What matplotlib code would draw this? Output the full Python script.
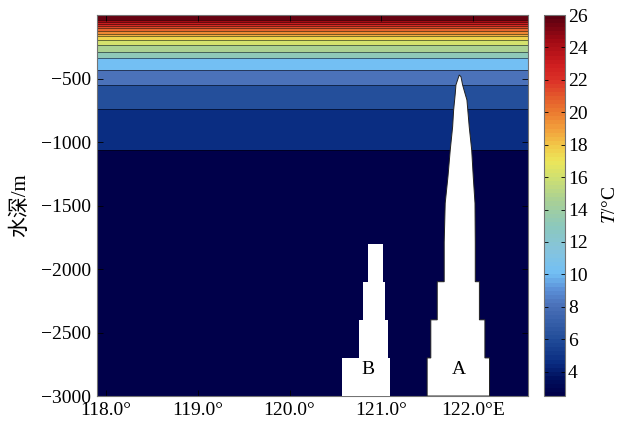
import matplotlib
matplotlib.use("Agg")
import matplotlib.pyplot as plt
import numpy as np
from matplotlib.colors import LinearSegmentedColormap, Normalize
from matplotlib.patches import Polygon

plt.rcParams["font.family"] = ["Liberation Serif", "Noto Sans CJK SC"]
plt.rcParams["mathtext.fontset"] = "stix"
plt.rcParams["axes.unicode_minus"] = True

# ── Data ──────────────────────────────────────────────────────────────────────
# temperature layers: boundaries (m, negative down) and layer temperature (°C)
layer_edges = [0, -39, -58, -73, -89, -105, -126, -147, -168, -199, -236,
               -289, -341, -433, -551, -740, -1063, -3000]
layer_temp = [25.6, 24.4, 23.2, 22.3, 21.4, 20.5, 19.6, 18.6, 17.5, 16.2,
              14.6, 13.0, 10.2, 8.0, 6.2, 4.5, 2.7]

# seamount A outline (lon, depth)
sm_a_lon = [121.50, 121.50, 121.54, 121.54, 121.61, 121.61, 121.686, 121.686,
            121.697, 121.727, 121.752, 121.778, 121.789, 121.807, 121.814,
            121.85, 121.869, 121.887, 121.913, 121.934, 121.959, 121.986,
            122.003, 122.022, 122.025, 122.025, 122.07, 122.07, 122.13,
            122.13, 122.18, 122.18]
sm_a_dep = [-3000, -2700, -2700, -2400, -2400, -2100, -2100, -1790,
            -1482, -1273, -1063, -880, -748, -617, -551,
            -472, -486, -551, -617, -669, -880, -1063,
            -1273, -1482, -1790, -2100, -2100, -2400, -2400,
            -2700, -2700, -3000]

# seamount B outline (lon, depth)
sm_b_lon = [120.57, 120.57, 120.76, 120.76, 120.80, 120.80, 120.856, 120.856,
            121.02, 121.02, 121.04, 121.04, 121.07, 121.07, 121.10, 121.10]
sm_b_dep = [-3000, -2700, -2700, -2400, -2400, -2100, -2100, -1800,
            -1800, -2100, -2100, -2400, -2400, -2700, -2700, -3000]

lon_ticks = [118.0, 119.0, 120.0, 121.0, 122.0]
lon_labels = ["118.0°", "119.0°", "120.0°", "121.0°", "122.0°E"]
dep_ticks = [-3000, -2500, -2000, -1500, -1000, -500]
cb_ticks = [4, 6, 8, 10, 12, 14, 16, 18, 20, 22, 24, 26]

# ── Colormap ──────────────────────────────────────────────────────────────────
T_MIN, T_MAX = 2.5, 26.0
anchors = [
    (2.5, "#00004a"), (3.5, "#00105e"), (4.5, "#0a2d82"), (6.0, "#234e9a"),
    (8.0, "#4a70b8"), (9.0, "#5a8ed6"), (10.0, "#72bff4"), (11.5, "#86c4dc"),
    (13.0, "#8cc8bc"), (14.5, "#a8d096"), (16.0, "#d0e070"), (17.0, "#ece65a"),
    (18.0, "#f2c848"), (19.0, "#f2a03c"), (20.0, "#ec7c30"), (21.0, "#e45a2c"),
    (22.0, "#dc3228"), (23.0, "#d01e20"), (24.5, "#a00a14"), (26.0, "#5a0010"),
]
cmap = LinearSegmentedColormap.from_list(
    "temp", [((t - T_MIN) / (T_MAX - T_MIN), c) for t, c in anchors], N=94)
norm = Normalize(vmin=T_MIN, vmax=T_MAX)

# ── Figure ────────────────────────────────────────────────────────────────────
fig = plt.figure(figsize=(6.19, 4.24), dpi=100)
ax = fig.add_axes([0.1567, 0.066, 0.6963, 0.8986])
cax = fig.add_axes([0.879, 0.066, 0.034, 0.8986])

x_edges = [117.9, 122.6]
T = np.array(layer_temp)[:, None]
mesh = ax.pcolormesh(x_edges, layer_edges, T, cmap=cmap, norm=norm,
                     shading="flat", zorder=1)
ax.hlines(layer_edges[1:-1], x_edges[0], x_edges[1], colors="k",
          linewidth=0.6, alpha=0.6, zorder=2)

ax.add_patch(Polygon(np.column_stack([sm_a_lon, sm_a_dep]), closed=True,
                     facecolor="white", edgecolor="#222222", linewidth=0.7,
                     zorder=3))
ax.add_patch(Polygon(np.column_stack([sm_b_lon, sm_b_dep]), closed=True,
                     facecolor="white", edgecolor="none", zorder=3))

ax.text(120.85, -2795, "B", fontsize=14, ha="center", va="center", zorder=4)
ax.text(121.85, -2795, "A", fontsize=14, ha="center", va="center", zorder=4)

ax.set_xlim(x_edges)
ax.set_ylim(-3000, 0)
ax.set_xticks(lon_ticks)
ax.set_xticklabels(lon_labels)
ax.set_yticks(dep_ticks)
ax.tick_params(direction="in", top=True, right=True, length=4, width=0.6,
               labelsize=14, pad=4)
ax.set_ylabel("水深/m", fontsize=15, labelpad=8)
for sp in ax.spines.values():
    sp.set_color("0.45")
    sp.set_linewidth(0.8)

cb = fig.colorbar(mesh, cax=cax, ticks=cb_ticks)
cb.ax.tick_params(direction="in", left=True, right=True, length=3, width=0.6,
                  labelsize=14, pad=2)
cb.outline.set_edgecolor("0.45")
cb.set_label("$T$/°C", fontsize=14, labelpad=10)

fig.savefig("out.png", dpi=100)
